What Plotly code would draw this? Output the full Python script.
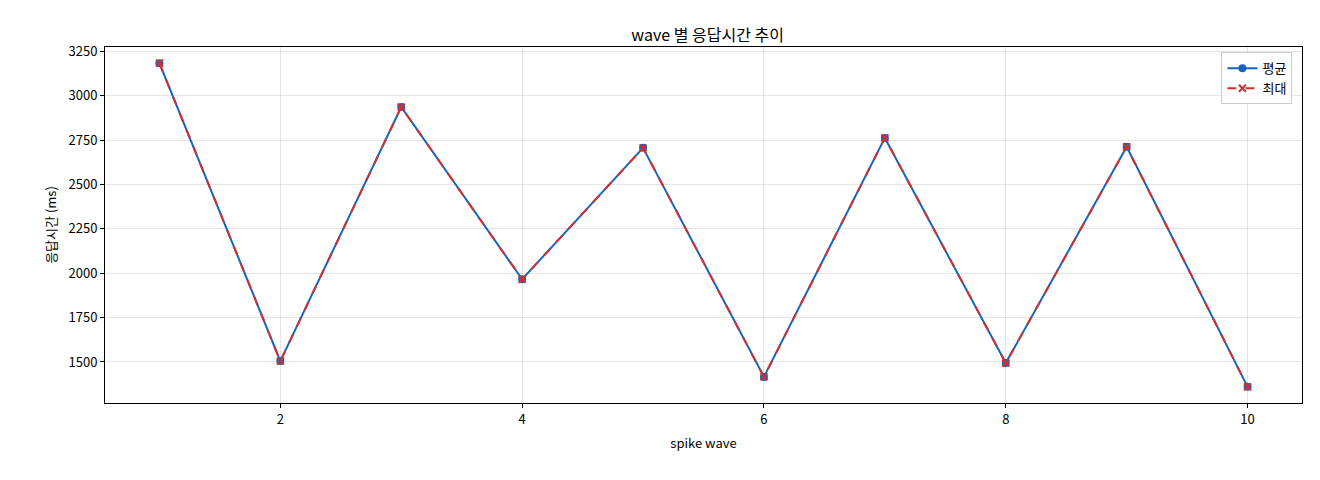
import plotly.graph_objects as go

waves = [1, 2, 3, 4, 5, 6, 7, 8, 9, 10]
avg_ms = [3183, 1505, 2936, 1966, 2706, 1416, 2762, 1494, 2712, 1360]
max_ms = [3183, 1505, 2936, 1966, 2706, 1416, 2762, 1494, 2712, 1360]

font = "Noto Sans CJK KR"

fig = go.Figure()
fig.add_trace(go.Scatter(
    x=waves, y=avg_ms, name="평균", mode="lines+markers",
    line=dict(color="#1565c0", width=2),
    marker=dict(symbol="circle", size=8, color="#1565c0"),
))
fig.add_trace(go.Scatter(
    x=waves, y=max_ms, name="최대", mode="lines+markers",
    line=dict(color="#d32f2f", width=2, dash="dash"),
    marker=dict(symbol="x-thin", size=7, line=dict(color="#d32f2f", width=2)),
))

axis = dict(showline=True, mirror=True, linecolor="black", linewidth=1,
            ticks="outside", ticklen=4, tickcolor="black",
            gridcolor="rgba(0,0,0,0.1)", zeroline=False,
            tickfont=dict(size=13, color="black"))

fig.update_layout(
    width=1320, height=480,
    margin=dict(l=97, r=26, t=39, b=85),
    paper_bgcolor="white", plot_bgcolor="white",
    font=dict(family=font, size=13, color="black"),
    title=dict(text="wave 별 응답시간 추이", x=0.53, xanchor="center",
               y=0.955, font=dict(size=16)),
    xaxis=dict(axis, range=[0.55, 10.45], tickvals=[2, 4, 6, 8, 10],
               title=dict(text="spike wave", font=dict(size=13), standoff=12)),
    yaxis=dict(axis, range=[1269, 3274],
               tickvals=[1500, 1750, 2000, 2250, 2500, 2750, 3000, 3250],
               title=dict(text="응답시간 (ms)", font=dict(size=13), standoff=8)),
    legend=dict(x=0.992, y=0.985, xanchor="right", yanchor="top",
                bordercolor="#cccccc", borderwidth=1, bgcolor="white",
                font=dict(size=13)),
)

fig.write_html("out.html")
